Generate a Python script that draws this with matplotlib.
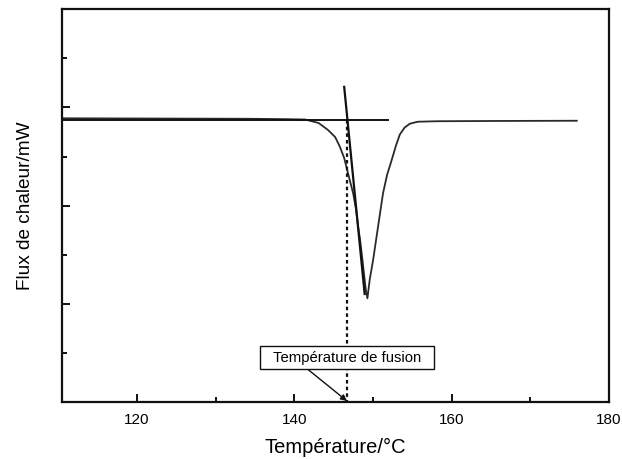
import matplotlib
matplotlib.use("Agg")
import matplotlib.pyplot as plt
from matplotlib.ticker import MultipleLocator, NullFormatter

plt.rcParams['font.family'] = ['Liberation Sans', 'DejaVu Sans']

# DSC curve (temperature in °C, flux in arbitrary units)
temp = [110.5, 122.0, 134.2, 139.0, 141.4, 143.1, 144.3, 145.2, 145.8, 146.35,
        146.73, 147.05, 147.49, 147.87, 148.12, 148.37, 148.67, 148.88, 149.10,
        149.30, 149.60, 150.02, 150.65, 151.28, 151.80, 152.29, 152.92, 153.42,
        154.02, 154.69, 155.70, 158.2, 165.0, 175.9]
flux = [5.78, 5.775, 5.77, 5.762, 5.755, 5.684, 5.541, 5.398, 5.201, 4.970,
        4.726, 4.522, 4.251, 3.911, 3.571, 3.300, 2.892, 2.587, 2.281,
        2.112, 2.50, 2.89, 3.57, 4.25, 4.63, 4.88, 5.22, 5.45,
        5.59, 5.67, 5.71, 5.72, 5.725, 5.73]

# tangent construction
base_x = [110.5, 151.9]
base_y = [5.755, 5.755]
tang_x = [146.35, 148.95]
tang_y = [6.42, 2.2]
t_fusion = 146.7

fig = plt.figure(figsize=(6.22, 4.59), dpi=100)
ax = fig.add_axes([0.0997, 0.1242, 0.8795, 0.8555])

ax.plot(temp, flux, color='#2a2a2a', lw=1.3)
ax.plot(base_x, base_y, color='#111111', lw=1.4)
ax.plot(tang_x, tang_y, color='#111111', lw=1.6)
ax.plot([t_fusion, t_fusion], [base_y[0], 0], color='#111111', lw=1.6,
        linestyle=(0, (1.6, 1.4)))

ax.annotate('  Température de fusion  ', xy=(t_fusion, 0.02), xytext=(t_fusion, 0.906),
            ha='center', va='center', fontsize=10.7,
            bbox=dict(boxstyle='square,pad=0.3', fc='white', ec='#111111', lw=1.0),
            arrowprops=dict(arrowstyle='-|>', color='#111111', lw=1.0,
                            mutation_scale=9, shrinkA=0, shrinkB=0,
                            relpos=(0.226, 0.0)))

ax.set_xlim(110.5, 180)
ax.set_ylim(0, 8)
ax.xaxis.set_major_locator(MultipleLocator(20))
ax.xaxis.set_minor_locator(MultipleLocator(10))
ax.yaxis.set_major_locator(MultipleLocator(2))
ax.yaxis.set_minor_locator(MultipleLocator(1))
ax.yaxis.set_major_formatter(NullFormatter())
ax.tick_params(which='both', direction='in', width=1.4, color='#111111')
ax.tick_params(which='major', length=6)
ax.tick_params(which='minor', length=3.5)
ax.tick_params(axis='x', labelsize=11, pad=8)
for s in ax.spines.values():
    s.set_linewidth(1.6)
    s.set_color('#111111')

ax.set_xlabel('Température/°C', fontsize=14.5, labelpad=8)
ax.set_ylabel('Flux de chaleur/mW', fontsize=13.7, labelpad=17)

fig.savefig('out.png', dpi=100)
